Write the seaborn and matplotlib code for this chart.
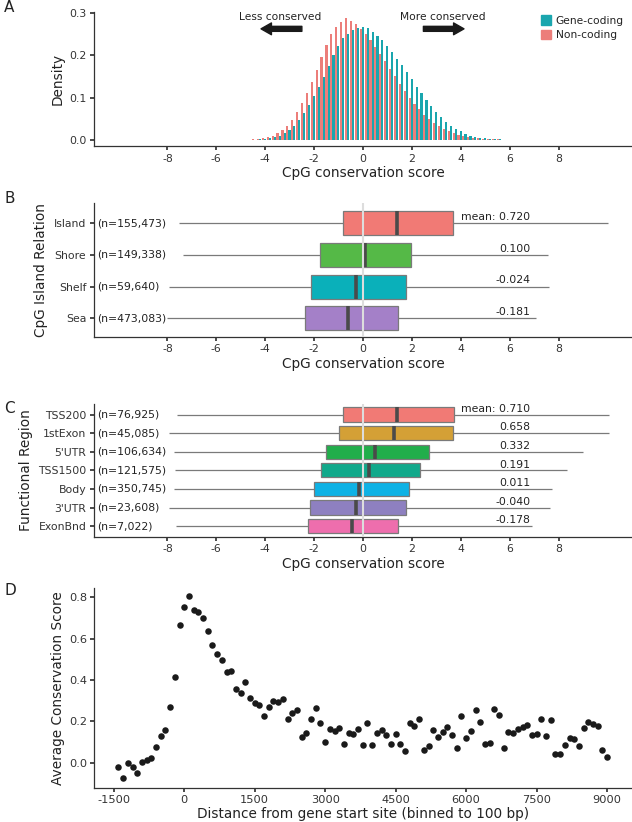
import numpy as np
import pandas as pd
import matplotlib
matplotlib.use("Agg")
import matplotlib.pyplot as plt
import seaborn as sns
from matplotlib.patches import Patch
from matplotlib.transforms import blended_transform_factory

# ---------------- data ----------------
# Panel A: histogram densities per 0.2-wide bin (bin centres; red bar left, teal bar right)
bin_centers = np.round(np.arange(-7.05, 7.96, 0.2), 2)
gene_coding = [0.0002, 0.0002, 0.0002, 0.0002, 0.0003, 0.0003, 0.0003, 0.0003, 0.0003, 0.0004, 0.0004,
               0.0005, 0.0007, 0.0010, 0.0016, 0.0025, 0.004, 0.006, 0.010, 0.016, 0.024,
               0.034, 0.047, 0.063, 0.083, 0.104, 0.126, 0.149, 0.174, 0.200, 0.222,
               0.240, 0.251, 0.259, 0.265, 0.266, 0.263, 0.255, 0.246, 0.236, 0.222,
               0.208, 0.192, 0.177, 0.161, 0.144, 0.126, 0.110, 0.094, 0.079, 0.065,
               0.053, 0.043, 0.034, 0.026, 0.020, 0.014, 0.010, 0.007, 0.005, 0.0035,
               0.0025, 0.0018, 0.0013, 0.0010, 0.0008, 0.0006, 0.0005, 0.0004, 0.0003, 0.0003,
               0.0002, 0.0002, 0.0002, 0.0001, 0.0001]
non_coding = [0.0002, 0.0002, 0.0002, 0.0003, 0.0003, 0.0003, 0.0003, 0.0004, 0.0004, 0.0005, 0.0005,
              0.0007, 0.0010, 0.0016, 0.0025, 0.004, 0.0065, 0.010, 0.016, 0.024, 0.034,
              0.047, 0.065, 0.086, 0.110, 0.137, 0.165, 0.196, 0.225, 0.249, 0.267,
              0.279, 0.287, 0.280, 0.273, 0.262, 0.250, 0.236, 0.220, 0.203, 0.186,
              0.168, 0.150, 0.132, 0.115, 0.099, 0.085, 0.072, 0.060, 0.049, 0.040,
              0.032, 0.026, 0.020, 0.016, 0.012, 0.009, 0.007, 0.005, 0.004, 0.003,
              0.0022, 0.0016, 0.0012, 0.0009, 0.0007, 0.0005, 0.0004, 0.0003, 0.0003, 0.0002,
              0.0002, 0.0001, 0.0001, 0.0001, 0.0001]

# Panel B: CpG island relation box statistics (whisker low, Q1, median, Q3, whisker high)
island_cats = ["Island", "Shore", "Shelf", "Sea"]
island_n = ["155,473", "149,338", "59,640", "473,083"]
island_means = ["mean: 0.720", "0.100", "-0.024", "-0.181"]
island_stats = [[-7.53, -0.81, 1.41, 3.69, 10.01],
                [-7.36, -1.77, 0.08, 1.97, 7.58],
                [-7.94, -2.13, -0.30, 1.75, 7.61],
                [-8.02, -2.38, -0.60, 1.42, 7.08]]
island_colors = ["#F17A75", "#55B947", "#0AB0BA", "#A480C8"]

# Panel C: functional region box statistics
func_cats = ["TSS200", "1stExon", "5'UTR", "TSS1500", "Body", "3'UTR", "ExonBnd"]
func_n = ["76,925", "45,085", "106,634", "121,575", "350,745", "23,608", "7,022"]
func_means = ["mean: 0.710", "0.658", "0.332", "0.191", "0.011", "-0.040", "-0.178"]
func_stats = [[-7.61, -0.83, 1.37, 3.72, 10.04],
              [-7.94, -0.98, 1.26, 3.66, 10.04],
              [-7.74, -1.52, 0.50, 2.70, 8.98],
              [-7.69, -1.70, 0.23, 2.32, 8.35],
              [-7.74, -2.02, -0.17, 1.87, 7.71],
              [-7.94, -2.15, -0.28, 1.77, 7.64],
              [-7.66, -2.23, -0.46, 1.44, 6.91]]
func_colors = ["#F17A75", "#D4A036", "#21AE4B", "#11A98B", "#0EB2E5", "#8E80C0", "#EE6EAD"]

# Panel D: average conservation score by distance bin
distance = np.arange(-1400, 9001, 100)
avg_score = [-0.023, -0.076, -0.003, -0.023, -0.052, 0.005, 0.013, 0.023, 0.076, 0.127,
             0.156, 0.268, 0.413, 0.665, 0.753, 0.805, 0.740, 0.730, 0.700, 0.635,
             0.570, 0.526, 0.495, 0.437, 0.445, 0.358, 0.339, 0.389, 0.313, 0.290,
             0.277, 0.224, 0.271, 0.300, 0.292, 0.306, 0.211, 0.242, 0.253, 0.123,
             0.142, 0.213, 0.266, 0.190, 0.098, 0.163,
             0.155, 0.166, 0.092, 0.142, 0.137, 0.163, 0.084, 0.192, 0.084, 0.144,
             0.158, 0.132, 0.089, 0.140, 0.089, 0.058, 0.194, 0.179, 0.210, 0.063,
             0.079, 0.158, 0.123, 0.150, 0.171, 0.132, 0.069, 0.227, 0.118, 0.153,
             0.255, 0.198, 0.090, 0.094, 0.260, 0.229, 0.069, 0.150, 0.142, 0.163,
             0.174, 0.181, 0.135, 0.139, 0.210, 0.127, 0.205, 0.044, 0.040, 0.084,
             0.118, 0.115, 0.081, 0.169, 0.197, 0.187, 0.177, 0.061, 0.029]

TEAL = "#1AA6AE"
RED = "#EC7E7A"

# ---------------- style ----------------
sns.set_theme(style="ticks")
plt.rcParams["font.family"] = ["DejaVu Sans"]
plt.rcParams["axes.unicode_minus"] = False
plt.rcParams["axes.edgecolor"] = "#333333"
plt.rcParams["axes.linewidth"] = 0.9
plt.rcParams["xtick.color"] = "#333333"
plt.rcParams["ytick.color"] = "#333333"
plt.rcParams["xtick.major.size"] = 3
plt.rcParams["ytick.major.size"] = 3
plt.rcParams["xtick.major.pad"] = 2.5
plt.rcParams["ytick.major.pad"] = 2.5
plt.rcParams["xtick.labelsize"] = 7.8
plt.rcParams["ytick.labelsize"] = 7.8
plt.rcParams["axes.labelsize"] = 9.8
plt.rcParams["text.color"] = "#222222"
plt.rcParams["axes.labelcolor"] = "#222222"

W, H = 632, 822
fig = plt.figure(figsize=(W / 100, H / 100), dpi=100)


def ax_px(l, t, r, b):
    return fig.add_axes([l / W, 1 - b / H, (r - l) / W, (b - t) / H])


xt = [-8, -6, -4, -2, 0, 2, 4, 6, 8]

# ---------------- Panel A ----------------
axA = ax_px(94, 12, 632, 146)
nb = len(bin_centers)
dfA = pd.DataFrame({
    "score": np.concatenate([bin_centers, bin_centers]),
    "density": list(gene_coding) + list(non_coding),
    "group": ["Gene-coding"] * nb + ["Non-coding"] * nb,
})
sns.histplot(data=dfA, x="score", weights="density", hue="group",
             hue_order=["Non-coding", "Gene-coding"], binwidth=0.2, binrange=(-7.15, 8.05),
             multiple="dodge", shrink=0.88,
             palette={"Gene-coding": TEAL, "Non-coding": RED},
             alpha=1, linewidth=0, legend=False, ax=axA)
axA.set_xlim(-11, 11)
axA.set_ylim(-0.0142, 0.3017)
axA.set_xticks(xt)
axA.set_xticklabels([str(v) for v in xt])
axA.set_yticks([0, 0.1, 0.2, 0.3])
axA.set_yticklabels(["0.0", "0.1", "0.2", "0.3"])
axA.set_xlabel("CpG conservation score", labelpad=2)
axA.set_ylabel("Density", labelpad=3)
sns.despine(ax=axA)
arrow_style = "simple,head_length=0.75,head_width=0.85,tail_width=0.36"
axA.annotate("", xy=(-4.17, 0.262), xytext=(-2.5, 0.262),
             arrowprops=dict(arrowstyle=arrow_style, color="#1a1a1a", mutation_scale=10,
                             shrinkA=0, shrinkB=0))
axA.annotate("", xy=(4.13, 0.262), xytext=(2.47, 0.262),
             arrowprops=dict(arrowstyle=arrow_style, color="#1a1a1a", mutation_scale=10,
                             shrinkA=0, shrinkB=0))
axA.text(-3.38, 0.291, "Less conserved", ha="center", va="center", fontsize=7.7)
axA.text(3.26, 0.291, "More conserved", ha="center", va="center", fontsize=7.7)
axA.legend(handles=[Patch(color=TEAL, label="Gene-coding"), Patch(color=RED, label="Non-coding")],
           loc="upper left", bbox_to_anchor=(0.83, 0.975), frameon=False, fontsize=7.7,
           handlelength=1.0, handleheight=1.0, handletextpad=0.4, labelspacing=0.35,
           borderaxespad=0, borderpad=0)


# ---------------- Box panels ----------------
def box_panel(ax, cats, stats, colors, ns, means, ylim, ylabel, text_off):
    rows = []
    for c, s in zip(cats, stats):
        for v in s:
            rows.append((c, v))
    df = pd.DataFrame(rows, columns=["cat", "score"])
    sns.boxplot(data=df, x="score", y="cat", hue="cat", order=cats, hue_order=cats,
                palette=colors, saturation=1, whis=(0, 100), width=0.76, showcaps=False,
                linecolor="#7a7a7a", linewidth=0.9,
                medianprops={"color": "#4a4a4a", "linewidth": 2.6},
                legend=False, ax=ax)
    ax.axvline(0, color="#DDDDDD", lw=1.5, zorder=10)
    ax.set_xlim(-11, 11)
    ax.set_ylim(*ylim)
    ax.set_xticks(xt)
    ax.set_xticklabels([str(v) for v in xt])
    ax.set_xlabel("CpG conservation score", labelpad=2)
    ax.set_ylabel(ylabel, labelpad=4)
    trans = blended_transform_factory(ax.transAxes, ax.transData)
    for i, n in enumerate(ns):
        ax.text(0.005, i, f"(n={n})", transform=trans, ha="left", va="center", fontsize=7.8,
                zorder=12)
    for i, m in enumerate(means):
        ax.annotate(m, xy=(6.85, i), xytext=(0, text_off), textcoords="offset points",
                    ha="right", va="bottom", fontsize=7.8)
    sns.despine(ax=ax)


axB = ax_px(94, 203.3, 632, 336.7)
box_panel(axB, island_cats, island_stats, island_colors, island_n, island_means,
          (3.58, -0.63), "CpG Island Relation", 1.0)

axC = ax_px(94, 404.3, 632, 536.7)
box_panel(axC, func_cats, func_stats, func_colors, func_n, func_means,
          (6.57, -0.55), "Functional Region", 0.5)

# ---------------- Panel D ----------------
axD = ax_px(94, 588.3, 632, 788.3)
sns.scatterplot(x=distance, y=avg_score, color="#1a1a1a", s=22, linewidth=0, ax=axD)
axD.set_xlim(-1920, 9530)
axD.set_ylim(-0.124, 0.8435)
dx = [-1500, 0, 1500, 3000, 4500, 6000, 7500, 9000]
axD.set_xticks(dx)
axD.set_xticklabels([str(v) for v in dx])
axD.set_yticks([0, 0.2, 0.4, 0.6, 0.8])
axD.set_yticklabels(["0.0", "0.2", "0.4", "0.6", "0.8"])
axD.tick_params(labelsize=8.2, pad=2)
axD.set_xlabel("Distance from gene start site (binned to 100 bp)", labelpad=1)
axD.set_ylabel("Average Conservation Score", labelpad=3)
sns.despine(ax=axD)

# panel letters
for letter, y in [("A", 8), ("B", 198), ("C", 408), ("D", 590)]:
    fig.text(4 / W, 1 - y / H, letter, fontsize=11, ha="left", va="center")

fig.savefig("out.png", dpi=100)
